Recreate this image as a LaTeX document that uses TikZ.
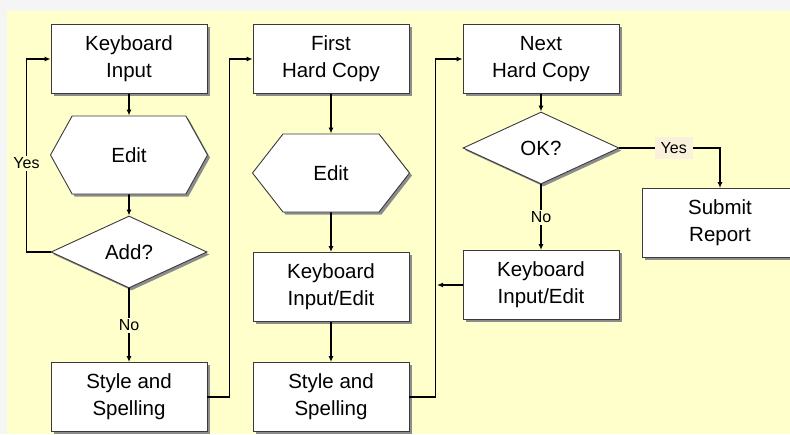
\documentclass[tikz,border=0pt]{standalone}
\usepackage{fontspec}
\setmainfont{Liberation Sans}
\usetikzlibrary{shapes.geometric,shapes.symbols,shadows,arrows.meta}
\definecolor{PaleYellow}{HTML}{FFFFCC}
\definecolor{PaleGrey}{HTML}{F5F5F5}
\definecolor{LabelTint}{HTML}{FAF0DC}
\definecolor{Outline}{HTML}{3A3A3A}
\tikzset{
  shade box/.style={drop shadow={shadow xshift=2.5pt, shadow yshift=-2.5pt, fill=black!45, opacity=1}},
  flowshape/.style={draw=Outline, line width=0.9pt, fill=white, shade box, inner sep=0pt,
    align=center, font=\fontsize{20.5}{27}\selectfont},
  stepbox/.style={flowshape, minimum width=156pt, minimum height=69pt},
  editbox/.style={flowshape, signal, signal to=west and east, minimum width=157pt, minimum height=78pt},
  askbox/.style={flowshape, diamond, minimum width=156pt, minimum height=72pt},
  tag/.style={font=\fontsize{16}{18}\selectfont, fill=PaleYellow, inner sep=2pt}
}
\begin{document}
\begin{tikzpicture}[x=1pt, y=-1pt, line width=1.7pt, >={Latex[length=6pt,width=5pt]}]
    % background
    \fill[PaleGrey] (0,0) rectangle (790,434);
    \fill[PaleYellow] (7,11) rectangle (790,434);
    \useasboundingbox (0,0) rectangle (790,434);

    % first draft
    \node[stepbox] (keyIn) at (129,59) {Keyboard\\Input};
    \node[editbox, signal pointer angle=122] (edit1) at (129,155) {Edit};
    \node[askbox] (add) at (129,252) {Add?};
    \node[stepbox] (style1) at (129,397) {Style and\\Spelling};

    % first hard copy
    \node[stepbox] (first) at (331,59) {First\\Hard Copy};
    \node[editbox, signal pointer angle=104] (edit2) at (331,173) {Edit};
    \node[stepbox] (input2) at (331,287) {Keyboard\\Input/Edit};
    \node[stepbox] (style2) at (331,397) {Style and\\Spelling};

    % next hard copy
    \node[stepbox] (next) at (541,59) {Next\\Hard Copy};
    \node[askbox] (ok) at (541,148) {OK?};
    \node[stepbox] (input3) at (541,285) {Keyboard\\Input/Edit};
    \node[stepbox] (submit) at (720,223) {Submit\\Report};
    \coordinate (merge) at (437,285);

    \draw[->] (keyIn) -- (edit1);
    \draw[->] (edit1) -- (add);
    \draw[->] (add) -- node[tag] {No} (style1);
    \draw[->] (add.west) -- ++(-24,0) |- node[tag, pos=0.23] {Yes} (keyIn.west);
    \draw[->] (style1.east) -- ++(22,0) |- (first.west);

    \draw[->] (first) -- (edit2);
    \draw[->] (edit2) -- (input2);
    \draw[->] (input2) -- (style2);
    \draw[->] (style2.east) -- ++(26,0) |- (next.west);

    \draw[->] (next) -- (ok);
    \draw[->] (ok) -- node[tag] {No} (input3);
    \draw[->] (input3.west) -- (merge);
    \draw[->] (ok.east) -| node[tag, fill=LabelTint, pos=0.27, inner xsep=6pt, inner ysep=5pt] {Yes} (submit.north);
\end{tikzpicture}
\end{document}
